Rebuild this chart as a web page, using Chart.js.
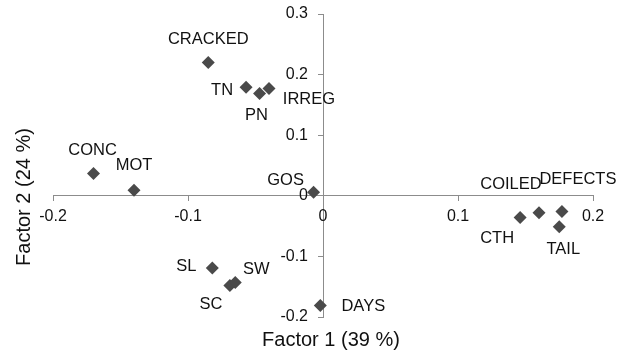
<!DOCTYPE html>
<html>
<head>
<meta charset="utf-8">
<script src="https://cdn.jsdelivr.net/npm/chart.js@4"></script>
<style>
  html, body { margin: 0; padding: 0; background: #fff; }
  #wrap { width: 628px; height: 357px; }
</style>
</head>
<body>
<div id="wrap"><canvas id="chart_1"></canvas></div>
<script>
// variable names, factor 1 scores, factor 2 scores
const names = ['CRACKED', 'TN', 'PN', 'IRREG', 'CONC', 'MOT', 'GOS', 'SL', 'SC', 'SW', 'DAYS', 'CTH', 'COILED', 'DEFECTS', 'TAIL'];
const factor1 = [-0.085, -0.057, -0.047, -0.040, -0.170, -0.140, -0.007, -0.082, -0.069, -0.065, -0.002, 0.146, 0.160, 0.177, 0.175];
const factor2 = [0.220, 0.179, 0.169, 0.177, 0.037, 0.009, 0.006, -0.119, -0.148, -0.143, -0.181, -0.036, -0.028, -0.026, -0.051];
const xTicks = [-0.2, -0.1, 0, 0.1, 0.2];
const yTicks = [-0.2, -0.1, 0, 0.1, 0.2, 0.3];

const FONT = '"Liberation Sans", Arial, sans-serif';

window.onload = () => {
    // where each name goes, relative to its point
    const labelShift = {
        CRACKED: [0, -23], TN: [-24, 3], PN: [-3, 22], IRREG: [40, 11],
        CONC: [-1, -23], MOT: [0, -25], GOS: [-28, -12], SL: [-26, -1],
        SC: [-19, 19], SW: [21, -13], DAYS: [43, 1], CTH: [-23, 21],
        COILED: [-28, -28], DEFECTS: [16, -32], TAIL: [4, 23]
    };

    const pointLabels = {
        id: 'pointLabels',
        afterDatasetsDraw(chart) {
            const ctx = chart.ctx;
            const meta = chart.getDatasetMeta(0);
            ctx.save();
            ctx.font = '16.5px ' + FONT;
            ctx.fillStyle = '#111';
            ctx.textAlign = 'center';
            ctx.textBaseline = 'middle';
            meta.data.forEach((pt, i) => {
                const s = labelShift[names[i]] || [0, -20];
                ctx.fillText(names[i], pt.x + s[0], pt.y + s[1]);
            });
            ctx.restore();
        }
    };

    // tick labels: y ones sit left of the crossing axis, x ones under it
    const tickLabels = {
        id: 'tickLabels',
        afterDraw(chart) {
            const ctx = chart.ctx;
            const xs = chart.scales.x, ys = chart.scales.y;
            const x0 = xs.getPixelForValue(0), y0 = ys.getPixelForValue(0);
            ctx.save();
            ctx.font = '16px ' + FONT;
            ctx.fillStyle = '#111';
            ctx.textBaseline = 'middle';
            ctx.textAlign = 'right';
            ys.ticks.forEach(t => ctx.fillText(String(t.value), x0 - 15, ys.getPixelForValue(t.value)));
            ctx.textAlign = 'center';
            xs.ticks.forEach(t => ctx.fillText(String(t.value), xs.getPixelForValue(t.value), y0 + 21));
            ctx.restore();
        }
    };

    const axisTitles = {
        id: 'axisTitles',
        afterDraw(chart) {
            const ctx = chart.ctx;
            ctx.save();
            ctx.font = '20px ' + FONT;
            ctx.fillStyle = '#111';
            ctx.textAlign = 'center';
            ctx.textBaseline = 'middle';
            ctx.fillText('Factor 1 (39 %)', 331, 340);
            ctx.translate(24, 197);
            ctx.rotate(-Math.PI / 2);
            ctx.fillText('Factor 2 (24 %)', 0, 0);
            ctx.restore();
        }
    };

    const ctx = document.getElementById('chart_1').getContext('2d');
    new Chart(ctx, {
        type: 'scatter',
        data: {
            datasets: [{
                label: 'factors',
                data: names.map((n, i) => ({ x: factor1[i], y: factor2[i] })),
                pointStyle: 'rectRot',
                pointRadius: 6.5,
                pointHoverRadius: 6.5,
                backgroundColor: '#4a4a4a',
                borderColor: '#4a4a4a',
                borderWidth: 0
            }]
        },
        options: {
            responsive: true,
            maintainAspectRatio: false,
            animation: false,
            layout: { padding: { left: 53, right: 35, top: 14, bottom: 40 } },
            plugins: { legend: { display: false }, tooltip: { enabled: false } },
            scales: {
                x: {
                    type: 'linear',
                    min: -0.2, max: 0.2,
                    position: { y: 0 },
                    afterBuildTicks: s => { s.ticks = xTicks.map(v => ({ value: v })); },
                    grid: { drawOnChartArea: false, tickLength: 5, color: '#8c8c8c' },
                    border: { color: '#8c8c8c', width: 1 },
                    ticks: { display: false }
                },
                y: {
                    type: 'linear',
                    min: -0.2, max: 0.3,
                    position: { x: 0 },
                    afterBuildTicks: s => { s.ticks = yTicks.map(v => ({ value: v })); },
                    grid: { drawOnChartArea: false, tickLength: 5, color: '#8c8c8c' },
                    border: { color: '#8c8c8c', width: 1 },
                    ticks: { display: false }
                }
            }
        },
        plugins: [pointLabels, tickLabels, axisTitles]
    });
};
</script>
</body>
</html>
